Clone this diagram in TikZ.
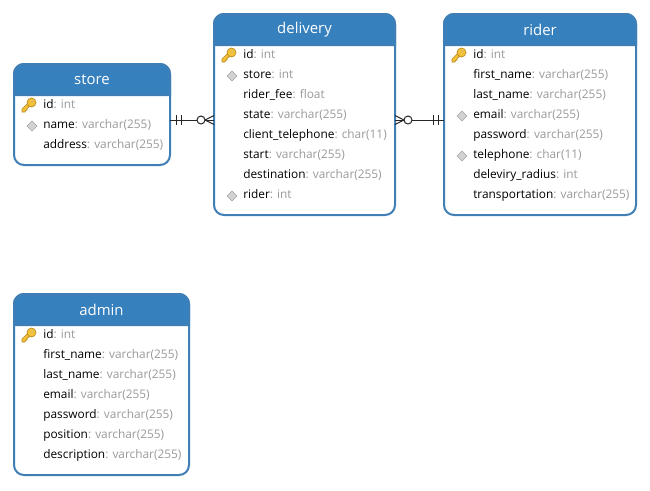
\documentclass[tikz,border=0pt]{standalone}
\usepackage{fontspec}
\setmainfont{Open Sans}
\usetikzlibrary{calc}
\definecolor{headblue}{HTML}{3780BE}
\definecolor{edgeblue}{HTML}{3F7FB5}
\definecolor{typegray}{HTML}{9A9A9A}
\definecolor{keygold}{HTML}{F3C13A}
\definecolor{keyedge}{HTML}{B98A1E}
\newcommand{\ty}[1]{\textcolor{typegray}{: #1}}
\newcommand{\vc}{varchar(255)}
\begin{document}
\begin{tikzpicture}[x=0.75pt,y=-0.75pt,
    entity/.style={draw=edgeblue,line width=1.5pt,rounded corners=7.5pt,anchor=north west,inner sep=0pt,outer sep=0pt,fill=white},
    head/.style={fill=headblue,draw=edgeblue,line width=1.5pt},
    title/.style={text=white,font=\fontsize{11.2}{13}\selectfont},
    field/.style={anchor=base west,inner sep=0pt,font=\fontsize{8.9}{11}\selectfont},
    link/.style={line width=0.75pt,black!85},
    keyicon/.pic={
      \draw[keyedge,fill=keygold,line width=0.5pt] (1,-3) -- (-6,4) -- (-6,7) -- (-3,7) -- (-2.5,5.5) -- (-1,5) -- (-1,3.5) -- (4.5,-1) -- cycle;
      \draw[keyedge,fill=keygold,line width=0.5pt] (3.5,-2.5) circle (4.5);
      \fill[keyedge!60!white] (4.5,-3.5) circle (1);
    },
    diamondicon/.pic={
      \draw[gray!70,fill=gray!35,line width=0.5pt] (-5,0) -- (0,-5) -- (5,0) -- (0,5) -- cycle;
    }]
  \useasboundingbox (0,0) rectangle (650,490);

  % store
  \node[entity,minimum width=117pt,minimum height=75.75pt] (store) at (14,64) {};
  \path[head] (14,95) [rounded corners=7.5pt] -- (14,64) -- (170,64) [sharp corners] -- (170,95) -- cycle;
  \node[title] (storetitle) at (92,80) {store};
  \foreach \fld [count=\r from 0] in {id\ty{int},name\ty{\vc},address\ty{\vc}}
    \node[field] at (43,108+20*\r) {\fld};
  \pic at (28,105) {keyicon};
  \pic at (32,126) {diamondicon};

  % delivery
  \node[entity,minimum width=135.75pt,minimum height=150.75pt] (delivery) at (214,14) {};
  \path[head] (214,45) [rounded corners=7.5pt] -- (214,14) -- (395,14) [sharp corners] -- (395,45) -- cycle;
  \node[title] (deliverytitle) at (304.5,30) {delivery};
  \foreach \fld [count=\r from 0] in {id\ty{int},store\ty{int},rider\_fee\ty{float},state\ty{\vc},client\_telephone\ty{char(11)},start\ty{\vc},destination\ty{\vc},rider\ty{int}}
    \node[field] at (243,58+20*\r) {\fld};
  \pic at (228,55) {keyicon};
  \pic at (232,76) {diamondicon};
  \pic at (232,196) {diamondicon};

  % rider
  \node[entity,minimum width=144pt,minimum height=150.75pt] (rider) at (444,14) {};
  \path[head] (444,45) [rounded corners=7.5pt] -- (444,14) -- (636,14) [sharp corners] -- (636,45) -- cycle;
  \node[title] (ridertitle) at (540,30) {rider};
  \foreach \fld [count=\r from 0] in {id\ty{int},first\_name\ty{\vc},last\_name\ty{\vc},email\ty{\vc},password\ty{\vc},telephone\ty{char(11)},deleviry\_radius\ty{int},transportation\ty{\vc}}
    \node[field] at (473,58+20*\r) {\fld};
  \pic at (458,55) {keyicon};
  \pic at (462,116) {diamondicon};
  \pic at (462,156) {diamondicon};

  % admin
  \node[entity,minimum width=131.25pt,minimum height=135.75pt] (admin) at (14,294) {};
  \path[head] (14,325) [rounded corners=7.5pt] -- (14,294) -- (189,294) [sharp corners] -- (189,325) -- cycle;
  \node[title] (admintitle) at (101.5,310) {admin};
  \foreach \fld [count=\r from 0] in {id\ty{int},first\_name\ty{\vc},last\_name\ty{\vc},email\ty{\vc},password\ty{\vc},position\ty{\vc},description\ty{\vc}}
    \node[field] at (43,338+20*\r) {\fld};
  \pic at (28,335) {keyicon};

  % store -- delivery
  \coordinate (sa) at (store.east |- 0,120);
  \coordinate (sb) at (delivery.west |- 0,120);
  \draw[link] (sa) -- (197,120) (205,120) -- (sb);
  \draw[link] ($(sa)+(6,-5)$) -- ($(sa)+(6,5)$);
  \draw[link] ($(sa)+(11,-5)$) -- ($(sa)+(11,5)$);
  \draw[link] (201,120) circle (4);
  \draw[link] (205,120) -- ($(sb)+(0,-4.5)$);
  \draw[link] (205,120) -- ($(sb)+(0,4.5)$);

  % delivery -- rider
  \coordinate (da) at (delivery.east |- 0,120);
  \coordinate (db) at (rider.west |- 0,120);
  \draw[link] (da) -- (404,120) (412,120) -- (db);
  \draw[link] ($(db)+(-6,-5)$) -- ($(db)+(-6,5)$);
  \draw[link] ($(db)+(-11,-5)$) -- ($(db)+(-11,5)$);
  \draw[link] (408,120) circle (4);
  \draw[link] (404,120) -- ($(da)+(0,-4.5)$);
  \draw[link] (404,120) -- ($(da)+(0,4.5)$);
\end{tikzpicture}
\end{document}
